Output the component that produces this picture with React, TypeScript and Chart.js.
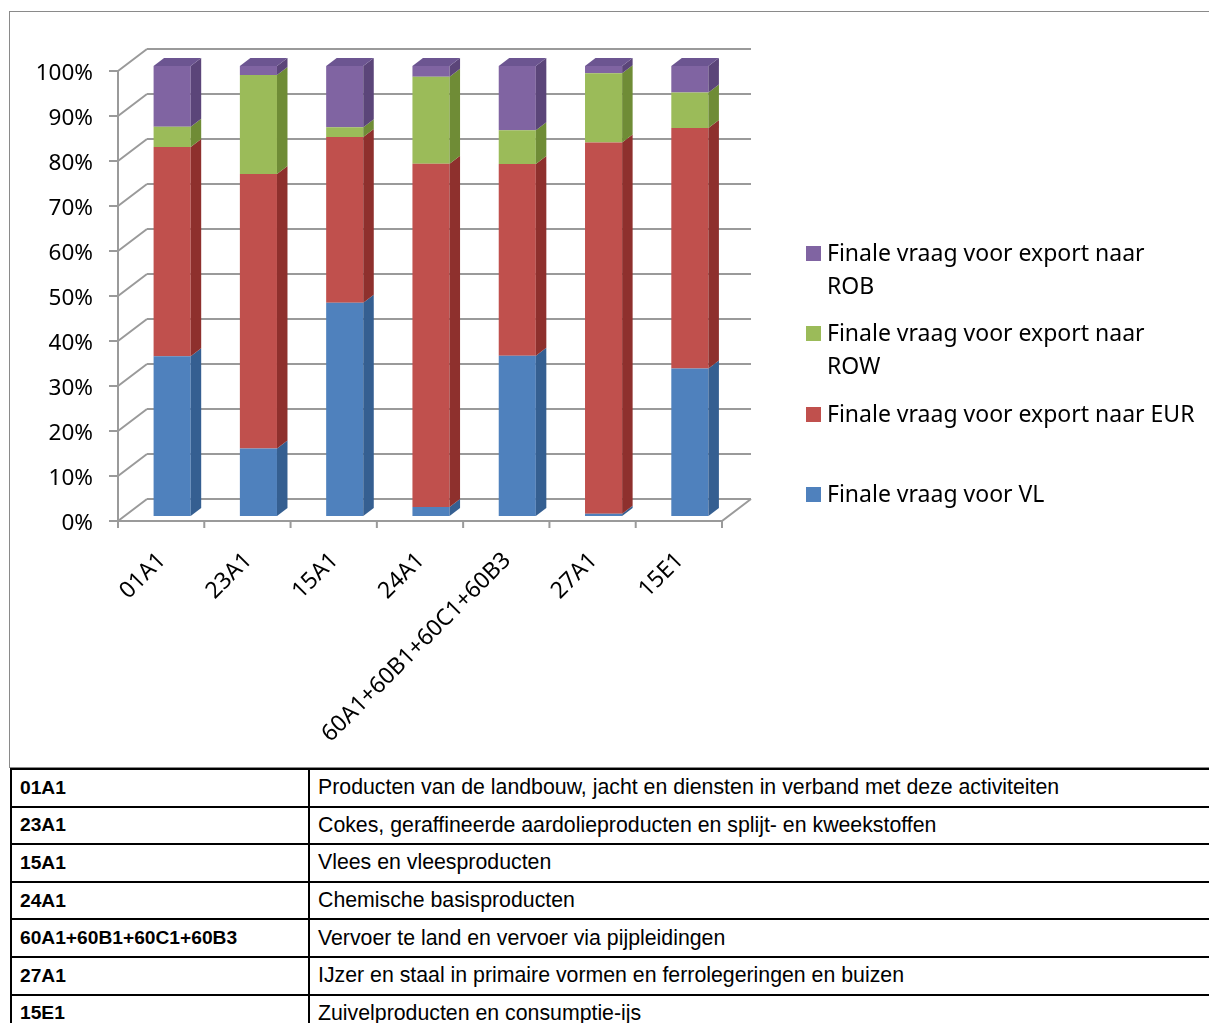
import React, { useEffect, useRef } from "react";
import { Chart, registerables } from "chart.js";

Chart.register(...registerables);

const categories = ["01A1", "23A1", "15A1", "24A1", "60A1+60B1+60C1+60B3", "27A1", "15E1"];
const seriesLabels = [
  "Finale vraag voor VL",
  "Finale vraag voor export naar EUR",
  "Finale vraag voor export naar ROW",
  "Finale vraag voor export naar ROB",
];
const vlValues = [35.5, 15.0, 47.4, 2.0, 35.6, 0.5, 32.8];
const eurValues = [46.5, 61.0, 36.8, 76.3, 42.6, 82.5, 53.4];
const rowValues = [4.5, 22.0, 2.2, 19.3, 7.5, 15.4, 7.9];
const robValues = [13.5, 2.0, 13.6, 2.4, 14.3, 1.6, 5.9];
const descriptions = [
  "Producten van de landbouw, jacht en diensten in verband met deze activiteiten",
  "Cokes, geraffineerde aardolieproducten en splijt- en kweekstoffen",
  "Vlees en vleesproducten",
  "Chemische basisproducten",
  "Vervoer te land en vervoer via pijpleidingen",
  "IJzer en staal in primaire vormen en ferrolegeringen en buizen",
  "Zuivelproducten en consumptie-ijs",
];

const frontColors = ["#4F81BD", "#C0504D", "#9BBB59", "#8064A2"];
const sideColors = ["#355f91", "#8e302d", "#6f8c36", "#5b4579"];
const topColors = ["#4a77b0", "#b04845", "#8eab50", "#6c5591"];

const LABEL_FONT = "'Noto Sans', Lato, sans-serif";

const threeD = {
  id: "threeD",
  beforeDatasetsDraw(chart: any) {
    const ctx = chart.ctx;
    const ca = chart.chartArea;
    const ys = chart.scales.y;
    const xs = chart.scales.x;
    const FX0 = ca.left - 11;
    const FX1 = ca.right - 11;
    const BX0 = ca.left + 18;
    const BX1 = ca.right + 18;
    const fy = (v: number) => ys.getPixelForValue(v) + 5;
    const by = (v: number) => ys.getPixelForValue(v) - 17;
    ctx.save();
    ctx.strokeStyle = "#9a9a9a";
    ctx.lineWidth = 2;
    ctx.lineCap = "butt";
    ys.ticks.forEach((t: any) => {
      const v = t.value;
      ctx.beginPath();
      ctx.moveTo(BX0, by(v));
      ctx.lineTo(BX1, by(v));
      ctx.moveTo(FX0, fy(v));
      ctx.lineTo(BX0, by(v));
      ctx.moveTo(FX0 - 9, fy(v));
      ctx.lineTo(FX0, fy(v));
      ctx.stroke();
    });
    const v0 = ys.min;
    const v1 = ys.max;
    ctx.beginPath();
    ctx.moveTo(FX0, fy(v0));
    ctx.lineTo(FX0, fy(v1));
    ctx.moveTo(FX0, fy(v0));
    ctx.lineTo(FX1, fy(v0));
    ctx.lineTo(BX1, by(v0));
    ctx.stroke();
    const n = xs.ticks.length;
    const step = (FX1 - FX0) / n;
    ctx.beginPath();
    for (let i = 0; i <= n; i++) {
      const x = FX0 + i * step;
      ctx.moveTo(x, fy(v0));
      ctx.lineTo(x, fy(v0) + 7);
    }
    ctx.stroke();
    ctx.restore();
  },
  afterDatasetsDraw(chart: any) {
    const ctx = chart.ctx;
    const dx = 10.5;
    const dy = 8;
    const nDs = chart.data.datasets.length;
    const nCat = chart.data.labels.length;
    ctx.save();
    for (let i = 0; i < nCat; i++) {
      let topDs = -1;
      for (let d = 0; d < nDs; d++) {
        const el = chart.getDatasetMeta(d).data[i];
        const val = chart.data.datasets[d].data[i];
        if (!el || !val) continue;
        const { x, y, base, width } = el.getProps(["x", "y", "base", "width"], true);
        const r = x + width / 2;
        ctx.fillStyle = sideColors[d];
        ctx.beginPath();
        ctx.moveTo(r, y);
        ctx.lineTo(r + dx, y - dy);
        ctx.lineTo(r + dx, base - dy);
        ctx.lineTo(r, base);
        ctx.closePath();
        ctx.fill();
        topDs = d;
      }
      if (topDs >= 0) {
        const el = chart.getDatasetMeta(topDs).data[i];
        const { x, y, width } = el.getProps(["x", "y", "width"], true);
        const l = x - width / 2;
        const r = x + width / 2;
        ctx.fillStyle = topColors[topDs];
        ctx.beginPath();
        ctx.moveTo(l, y);
        ctx.lineTo(l + dx, y - dy);
        ctx.lineTo(r + dx, y - dy);
        ctx.lineTo(r, y);
        ctx.closePath();
        ctx.fill();
      }
    }
    ctx.restore();
  },
};

function ChartBox() {
  const ref = useRef<HTMLCanvasElement | null>(null);
  useEffect(() => {
    if (!ref.current) return;
    const seriesValues = [vlValues, eurValues, rowValues, robValues];
    const chart = new Chart(ref.current, {
      type: "bar",
      data: {
        labels: categories,
        datasets: seriesValues.map((vals, d) => ({
          label: seriesLabels[d],
          data: vals,
          backgroundColor: frontColors[d],
          borderWidth: 0,
          barPercentage: 0.43,
          categoryPercentage: 1,
        })),
      },
      options: {
        responsive: false,
        animation: false,
        devicePixelRatio: 1,
        layout: { padding: { top: 54, left: 0, right: 476, bottom: 0 } },
        plugins: { legend: { display: false }, tooltip: { enabled: false } },
        scales: {
          x: {
            stacked: true,
            grid: { display: false, drawTicks: false },
            border: { display: false },
            ticks: {
              autoSkip: false,
              minRotation: 45,
              maxRotation: 45,
              padding: 31,
              labelOffset: -10,
              color: "#000",
              font: { family: LABEL_FONT, size: 23 },
            },
            afterFit: (s: any) => {
              s.height = 251;
            },
          },
          y: {
            stacked: true,
            min: 0,
            max: 100,
            grid: { display: false, drawTicks: false },
            border: { display: false },
            ticks: {
              stepSize: 10,
              padding: 36,
              labelOffset: 8,
              color: "#000",
              font: { family: LABEL_FONT, size: 22.5 },
              callback: (v: any) => v + "%",
            },
            afterFit: (s: any) => {
              s.width = 119;
            },
          },
        },
      },
      plugins: [threeD],
    });
    return () => chart.destroy();
  }, []);
  return <canvas ref={ref} width={1199} height={755} style={{ display: "block", width: 1199, height: 755 }} />;
}

const legendOrder = [3, 2, 1, 0];
const legendLines: string[][] = [
  ["Finale vraag voor export naar", "ROB"],
  ["Finale vraag voor export naar", "ROW"],
  ["Finale vraag voor export naar EUR"],
  ["Finale vraag voor VL"],
];
const legendTops = [253, 333, 414, 494];

export default function App() {
  return (
    <div
      style={{
        position: "fixed",
        left: 0,
        top: 0,
        width: 1209,
        height: 1023,
        overflow: "hidden",
        background: "#fff",
      }}
    >
      <div
        style={{
          position: "absolute",
          left: 9,
          top: 11,
          width: 1300,
          height: 757,
          border: "1.5px solid #8a8a8a",
          boxSizing: "border-box",
        }}
      />
      <div style={{ position: "absolute", left: 10, top: 12 }}>
        <ChartBox />
      </div>
      {legendOrder.map((d, k) => (
        <div key={d}>
          <div
            style={{
              position: "absolute",
              left: 806,
              top: legendTops[k] - 7.5,
              width: 15,
              height: 15,
              background: frontColors[d],
            }}
          />
          {legendLines[k].map((line, j) => (
            <div
              key={j}
              style={{
                position: "absolute",
                left: 827,
                top: legendTops[k] - 17 + j * 33,
                height: 32,
                lineHeight: "32px",
                fontFamily: LABEL_FONT,
                fontSize: 23,
                color: "#000",
                whiteSpace: "nowrap",
              }}
            >
              {line}
            </div>
          ))}
        </div>
      ))}
      <table
        style={{
          position: "absolute",
          left: 10,
          top: 768,
          width: 1260,
          borderCollapse: "collapse",
          fontFamily: "'Liberation Sans', Arial, sans-serif",
          fontSize: 21.3,
          color: "#000",
        }}
      >
        <tbody>
          {categories.map((c, i) => (
            <tr key={c} style={{ height: 37.6 }}>
              <td
                style={{
                  width: 298,
                  border: "2px solid #000",
                  padding: "0 0 0 8px",
                  fontWeight: "bold",
                  fontSize: 19.2,
                  boxSizing: "border-box",
                }}
              >
                {c}
              </td>
              <td style={{ border: "2px solid #000", padding: "0 0 0 8px" }}>{descriptions[i]}</td>
            </tr>
          ))}
        </tbody>
      </table>
    </div>
  );
}
